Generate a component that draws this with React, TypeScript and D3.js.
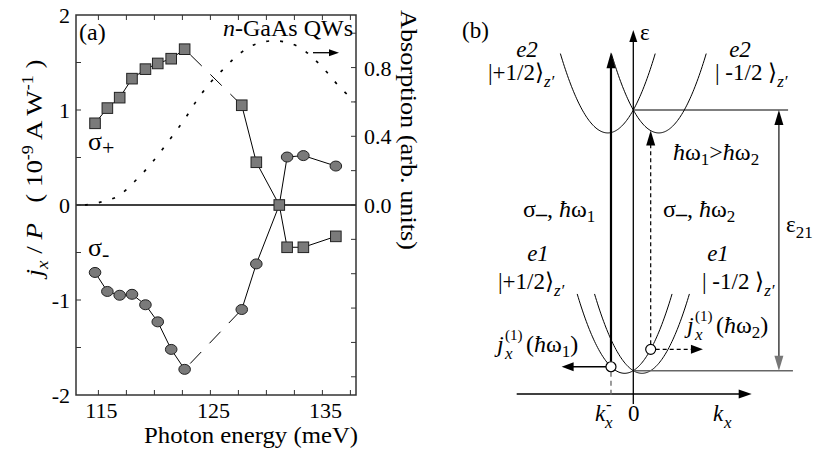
import React from 'react';
import * as d3 from 'd3';

// ---------- Panel (a) data ----------
const energy = [114.7, 115.8, 116.9, 118.0, 119.2, 120.3, 121.5, 122.7, 127.8, 129.1, 131.15, 131.85, 133.3, 136.2];
const sigmaPlus = [0.86, 1.02, 1.13, 1.33, 1.43, 1.49, 1.54, 1.64, 1.05, 0.45, 0.0, -0.445, -0.445, -0.33];
const sigmaMinus = [-0.71, -0.91, -0.95, -0.94, -1.05, -1.23, -1.52, -1.73, -1.1, -0.62, 0.0, 0.505, 0.52, 0.41];
const gapIndex = 7; // dashed between gapIndex and gapIndex+1
const crossIndex = 10;

const absEnergy = [113.8, 115.1, 116.7, 118.2, 119.7, 121.3, 122.7, 123.9, 125.1, 126.3, 127.4, 128.8, 130.3, 131.6, 132.9, 134.1, 135.3, 136.5, 137.9];
const absorption = [0.0, 0.015, 0.05, 0.135, 0.24, 0.375, 0.5, 0.62, 0.72, 0.8, 0.87, 0.93, 0.955, 0.95, 0.92, 0.86, 0.78, 0.69, 0.6];

const xTickLabels = [115, 125, 135];
const xTicks = [115, 117.5, 120, 122.5, 125, 127.5, 130, 132.5, 135, 137.5];
const yLeftLabels = [-2, -1, 0, 1, 2];
const yLeftTicks = [-1.5, -1, -0.5, 0, 0.5, 1, 1.5];
const yRightLabels = [0, 0.4, 0.8];
const yRightTicks = [-1.0, -0.8, -0.6, -0.4, -0.2, 0, 0.2, 0.4, 0.6, 0.8, 1.0];

// ---------- Panel (b) schematic parameters ----------
const bandNames = ['e1+', 'e1-', 'e2+', 'e2-'];
const bandK0 = [-0.34, 0.34, -1, 1];
const bandE0 = [-0.01, -0.01, 0.912, 0.912];
const bandCurv = 0.088;
const bandHalfWidth = 1.86;
const kMinus = -0.875; // transition hw1
const kPlus = 0.682; // transition hw2

const FONT = "'Liberation Serif', Tinos, 'Times New Roman', serif";

function arrowHead(tx: number, ty: number, dir: string, len: number, hw: number) {
  if (dir === 'up') return `M${tx},${ty} L${tx - hw},${ty + len} L${tx + hw},${ty + len} Z`;
  if (dir === 'down') return `M${tx},${ty} L${tx - hw},${ty - len} L${tx + hw},${ty - len} Z`;
  if (dir === 'left') return `M${tx},${ty} L${tx + len},${ty - hw} L${tx + len},${ty + hw} Z`;
  return `M${tx},${ty} L${tx - len},${ty - hw} L${tx - len},${ty + hw} Z`;
}

export default function App() {
  const x = d3.scaleLinear().domain([113, 138]).range([76, 356]);
  const yL = d3.scaleLinear().domain([-2, 2]).range([395, 15]);
  const yR = d3.scaleLinear().domain([-1.106, 1.106]).range([395, 15]);

  const pts = (vals: number[]) => vals.map((v, i) => [x(energy[i]), yL(v)] as [number, number]);
  const line = d3.line();
  const plusPts = pts(sigmaPlus);
  const minusPts = pts(sigmaMinus);
  const absLine = d3.line<number>().x((_, i) => x(absEnergy[i])).y((d) => yR(d)).curve(d3.curveCatmullRom);

  const k = d3.scaleLinear().domain([0, 1]).range([633.3, 658.8]);
  const e = d3.scaleLinear().domain([0, 1]).range([370.7, 110]);
  const band = (i: number) => {
    const ks = d3.range(bandK0[i] - bandHalfWidth, bandK0[i] + bandHalfWidth + 0.001, 0.04);
    return d3.line<number>().x((kk) => k(kk)).y((kk) => e(bandE0[i] + bandCurv * (kk - bandK0[i]) ** 2))(ks) as string;
  };
  const eBand = (i: number, kk: number) => bandE0[i] + bandCurv * (kk - bandK0[i]) ** 2;

  const e1Lo = eBand(0, kMinus);
  const e2Hi = eBand(3, kMinus);
  const e1Pl = eBand(0, kPlus);
  const e2Pl = eBand(3, kPlus);

  const tickLen = 5;
  const frame = '#333';

  return (
    <svg width={819} height={449} style={{ position: 'absolute', left: 0, top: 0, background: '#fff', fontFamily: FONT }}>
      <style>{`text { font-family: ${FONT}; }`}</style>
      <rect x={0} y={0} width={819} height={449} fill="#fff" />
      {/* ===== Panel (a) ===== */}
      <g>
        <line x1={x(113)} x2={x(138)} y1={yL(0)} y2={yL(0)} stroke="#000" strokeWidth={1.5} />
        <path d={absLine(absorption) as string} fill="none" stroke="#000" strokeWidth={1.7} strokeDasharray="3,11" />
        {[plusPts, minusPts].map((p, s) => (
          <g key={s}>
            <path d={line(p.slice(0, gapIndex + 1)) as string} fill="none" stroke="#000" strokeWidth={1} />
            <path d={line(p.slice(gapIndex, gapIndex + 2)) as string} fill="none" stroke="#000" strokeWidth={1} strokeDasharray="16,12" strokeDashoffset={-8} />
            <path d={line(p.slice(gapIndex + 1)) as string} fill="none" stroke="#000" strokeWidth={1} />
          </g>
        ))}
        {minusPts.map((p, i) =>
          i === crossIndex ? null : (
            <ellipse key={'c' + i} cx={p[0]} cy={p[1]} rx={5.8} ry={5} fill="#7a7a7a" stroke="#222" strokeWidth={1} />
          )
        )}
        {plusPts.map((p, i) => (
          <rect key={'s' + i} x={p[0] - 5.3} y={p[1] - 5.3} width={10.6} height={10.6} fill="#7a7a7a" stroke="#222" strokeWidth={1} />
        ))}

        <rect x={76} y={15} width={280} height={380} fill="none" stroke={frame} strokeWidth={1.5} />
        {xTicks.map((t) => (
          <g key={'xt' + t}>
            <line x1={x(t)} x2={x(t)} y1={395} y2={395 - tickLen} stroke={frame} strokeWidth={1} />
            <line x1={x(t)} x2={x(t)} y1={15} y2={15 + tickLen} stroke={frame} strokeWidth={1} />
          </g>
        ))}
        {xTickLabels.map((t) => (
          <text key={'xl' + t} x={x(t) + 3} y={418} textAnchor="middle" fontSize={22}>{t}</text>
        ))}
        {yLeftTicks.map((t) => (
          <line key={'yl' + t} x1={76} x2={76 + tickLen} y1={yL(t)} y2={yL(t)} stroke={frame} strokeWidth={1} />
        ))}
        {yLeftLabels.map((t) => (
          <text key={'yll' + t} x={70} y={yL(t) + 8} textAnchor="end" fontSize={22}>{t}</text>
        ))}
        {yRightTicks.map((t) => (
          <line key={'yr' + t} x1={356} x2={356 - tickLen} y1={yR(t)} y2={yR(t)} stroke={frame} strokeWidth={1} />
        ))}
        {yRightLabels.map((t) => (
          <text key={'yrl' + t} x={364} y={yR(t) + 8} textAnchor="start" fontSize={22}>{t.toFixed(1)}</text>
        ))}

        <text x={251} y={443} textAnchor="middle" fontSize={24} textLength={214} lengthAdjust="spacingAndGlyphs">Photon energy (meV)</text>
        <text transform="translate(42,168) rotate(-90)" textAnchor="middle" fontSize={24} textLength={217} lengthAdjust="spacingAndGlyphs" style={{ whiteSpace: 'pre' }}>
          <tspan fontStyle="italic">j</tspan>
          <tspan fontStyle="italic" fontSize={17} dy={6}>x</tspan>
          <tspan dy={-6}>{' / '}</tspan>
          <tspan fontStyle="italic">P</tspan>
          <tspan>{'   ( 10'}</tspan>
          <tspan fontSize={16} dy={-9}>-9</tspan>
          <tspan dy={9}>{' A W'}</tspan>
          <tspan fontSize={16} dy={-9}>-1</tspan>
          <tspan dy={9}>{' )'}</tspan>
        </text>
        <text transform="translate(401,130) rotate(90)" textAnchor="middle" fontSize={24} textLength={240} lengthAdjust="spacingAndGlyphs">Absorption (arb. units)</text>

        <text x={79} y={40} fontSize={24}>(a)</text>
        <text x={353} y={36} textAnchor="end" fontSize={24}>
          <tspan fontStyle="italic">n</tspan>-GaAs QWs
        </text>
        <line x1={313} x2={332} y1={52.7} y2={52.7} stroke="#000" strokeWidth={1.3} />
        <path d={arrowHead(339, 52.7, 'right', 10, 3.5)} fill="#000" />
        <text x={88} y={150} fontSize={26}>
          σ<tspan fontSize={22} dy={5}>+</tspan>
        </text>
        <text x={88} y={256} fontSize={26}>
          σ<tspan fontSize={22} dy={5}>-</tspan>
        </text>
      </g>

      {/* ===== Panel (b) ===== */}
      <g>
        {bandNames.map((b, i) => (
          <path key={b} d={band(i)} fill="none" stroke="#000" strokeWidth={1} />
        ))}
        <line x1={k(0)} x2={k(6.07)} y1={e(1)} y2={e(1)} stroke="#000" strokeWidth={1.2} />
        <line x1={k(0)} x2={k(6.26)} y1={e(0)} y2={e(0)} stroke="#666" strokeWidth={1.5} />
        <line x1={k(5.71)} x2={k(5.71)} y1={e(1) + 12} y2={e(0) - 12} stroke="#222" strokeWidth={1.3} />
        <path d={arrowHead(k(5.71), e(1), 'up', 15, 4.5)} fill="#000" />
        <path d={arrowHead(k(5.71), e(0), 'down', 15, 4.5)} fill="#777" />
        <line x1={k(0)} x2={k(0)} y1={404} y2={40} stroke="#000" strokeWidth={1.3} />
        <path d={arrowHead(k(0), 30, 'up', 12, 4)} fill="#000" />
        <line x1={516.7} x2={742} y1={394} y2={394} stroke="#000" strokeWidth={1.5} />
        <path d={arrowHead(751.7, 394, 'right', 13, 4.5)} fill="#000" />
        <line x1={k(kMinus)} x2={k(kMinus)} y1={e(e1Lo) + 5} y2={398} stroke="#666" strokeWidth={1.3} strokeDasharray="5,4" />
        <line x1={k(kMinus)} x2={k(kMinus)} y1={e(e1Lo) - 5} y2={e(e2Hi) + 12} stroke="#000" strokeWidth={2.2} />
        <path d={arrowHead(k(kMinus), e(e2Hi), 'up', 16, 4.5)} fill="#000" />
        <line x1={k(kPlus)} x2={k(kPlus)} y1={e(e1Pl) - 5} y2={e(e2Pl) + 12} stroke="#000" strokeWidth={1.2} strokeDasharray="4,3" />
        <path d={arrowHead(k(kPlus), e(e2Pl), 'up', 15, 4.5)} fill="#000" />
        <line x1={k(kMinus) - 5} x2={k(-2.81) + 10} y1={e(e1Lo)} y2={e(e1Lo)} stroke="#000" strokeWidth={1.5} />
        <path d={arrowHead(k(-2.81), e(e1Lo), 'left', 12, 4.5)} fill="#000" />
        <line x1={k(kPlus) + 5} x2={k(2.73) - 10} y1={e(e1Pl)} y2={e(e1Pl)} stroke="#000" strokeWidth={1.2} strokeDasharray="4,3" />
        <path d={arrowHead(k(2.73), e(e1Pl), 'right', 12, 4.5)} fill="#000" />
        <circle cx={k(kMinus)} cy={e(e1Lo)} r={5} fill="#fff" stroke="#000" strokeWidth={1.2} />
        <circle cx={k(kPlus)} cy={e(e1Pl)} r={5} fill="#fff" stroke="#000" strokeWidth={1.2} />

        <text x={462} y={38} fontSize={23}>(b)</text>
        <text x={640} y={40} fontSize={23}>ε</text>
        <text x={527} y={57} textAnchor="middle" fontSize={23} fontStyle="italic">e2</text>
        <text x={488} y={80} fontSize={23}>|+1/2⟩<tspan fontSize={17} dy={7} fontStyle="italic">z′</tspan></text>
        <text x={740} y={57} textAnchor="middle" fontSize={23} fontStyle="italic">e2</text>
        <text x={715} y={80} fontSize={23}>| -1/2 ⟩<tspan fontSize={17} dy={7} fontStyle="italic">z′</tspan></text>
        <text x={673} y={160} fontSize={24}>
          <tspan fontStyle="italic">ħ</tspan>ω<tspan fontSize={17} dy={5}>1</tspan>
          <tspan dy={-5}>&gt;</tspan>
          <tspan fontStyle="italic">ħ</tspan>ω<tspan fontSize={17} dy={5}>2</tspan>
        </text>
        <text x={523} y={217} fontSize={24}>
          σ<tspan fontSize={22} dy={4} fontWeight="bold">–</tspan><tspan dy={-4}>, </tspan><tspan fontStyle="italic">ħ</tspan>ω<tspan fontSize={17} dy={5}>1</tspan>
        </text>
        <text x={663} y={217} fontSize={24}>
          σ<tspan fontSize={22} dy={4} fontWeight="bold">–</tspan><tspan dy={-4}>, </tspan><tspan fontStyle="italic">ħ</tspan>ω<tspan fontSize={17} dy={5}>2</tspan>
        </text>
        <text x={786} y={232} fontSize={23}>
          ε<tspan fontSize={17} dy={6}>21</tspan>
        </text>
        <text x={538} y={261} textAnchor="middle" fontSize={23} fontStyle="italic">e1</text>
        <text x={498} y={289} fontSize={23}>|+1/2⟩<tspan fontSize={17} dy={7} fontStyle="italic">z′</tspan></text>
        <text x={718} y={261} textAnchor="middle" fontSize={23} fontStyle="italic">e1</text>
        <text x={702} y={289} fontSize={23}>| -1/2 ⟩<tspan fontSize={17} dy={7} fontStyle="italic">z′</tspan></text>
        <text x={497} y={352} fontSize={24} fontStyle="italic">j</text>
        <text x={505} y={359} fontSize={17} fontStyle="italic">x</text>
        <text x={505} y={340} fontSize={15}>(1)</text>
        <text x={526} y={352} fontSize={24}>(<tspan fontStyle="italic">ħ</tspan>ω<tspan fontSize={17} dy={5}>1</tspan><tspan dy={-5}>)</tspan></text>
        <text x={687} y={333} fontSize={24} fontStyle="italic">j</text>
        <text x={695} y={340} fontSize={17} fontStyle="italic">x</text>
        <text x={695} y={321} fontSize={15}>(1)</text>
        <text x={716} y={333} fontSize={24}>(<tspan fontStyle="italic">ħ</tspan>ω<tspan fontSize={17} dy={5}>2</tspan><tspan dy={-5}>)</tspan></text>
        <text x={595} y={421} fontSize={23} fontStyle="italic">k</text>
        <text x={605} y={428} fontSize={17} fontStyle="italic">x</text>
        <text x={606} y={410} fontSize={17}>-</text>
        <text x={628} y={421} fontSize={23}>0</text>
        <text x={713} y={421} fontSize={23} fontStyle="italic">k</text>
        <text x={724} y={428} fontSize={17} fontStyle="italic">x</text>
      </g>
    </svg>
  );
}
